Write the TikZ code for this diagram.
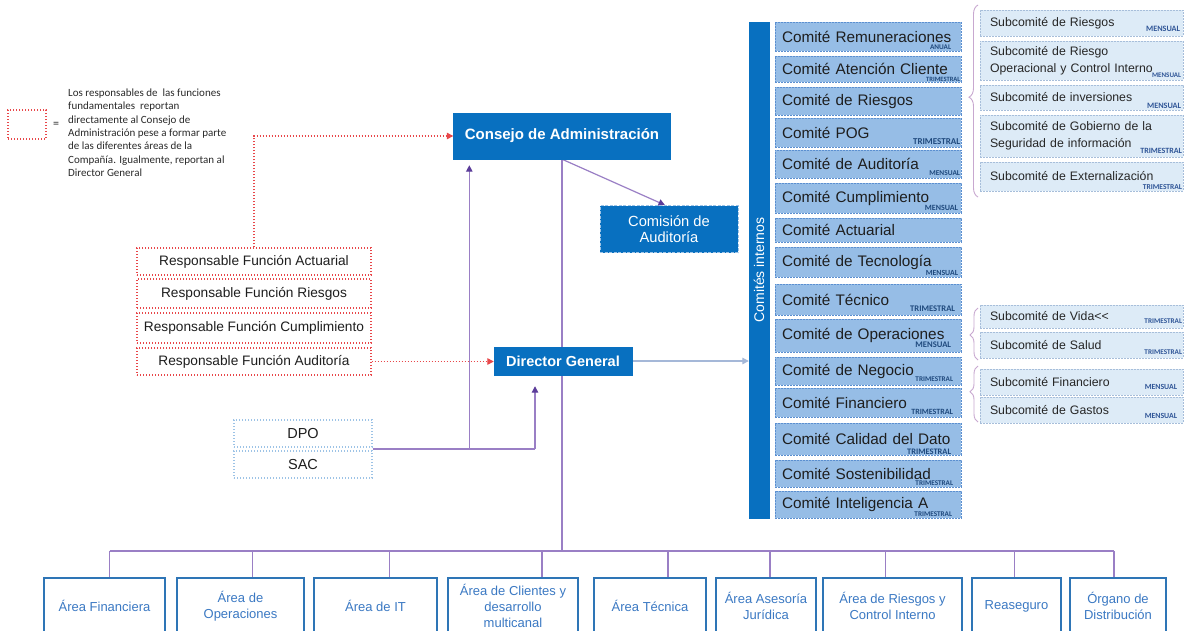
\documentclass[tikz,border=0pt]{standalone}
\usepackage{fontspec}
\setmainfont{Liberation Sans}
\newfontfamily\calib{Carlito}
\usetikzlibrary{arrows.meta,decorations.pathreplacing,backgrounds,calc}
\newcommand\fsz[2]{\fontsize{#1}{#2}\selectfont}
\definecolor{cblue}{HTML}{0870C0}
\definecolor{cfill}{HTML}{96BDE6}
\definecolor{cdash}{HTML}{5B8FD0}
\definecolor{sfill}{HTML}{DDEBF7}
\definecolor{sdash}{HTML}{A7BEDA}
\definecolor{areab}{HTML}{2E75B6}
\definecolor{areat}{HTML}{3B79C3}
\definecolor{purp}{HTML}{9A7FC5}
\definecolor{purpd}{HTML}{5B3C99}
\definecolor{brcol}{HTML}{C8A8D0}
\definecolor{lab}{HTML}{1F497D}
\definecolor{labb}{HTML}{2F5597}
\definecolor{txt}{HTML}{1E1E1E}
\definecolor{txtb}{HTML}{262626}
\definecolor{ltxt}{HTML}{2A2A2A}
\definecolor{gline}{HTML}{A5B8D8}
\definecolor{dpob}{HTML}{9DC3E6}
\definecolor{redd}{HTML}{E8474A}
\begin{document}
\begin{tikzpicture}[x=1pt,y=-1pt,
  bluebox/.style={fill=cblue, draw=cblue, text=white, inner sep=0pt, align=center},
  com/.style={fill=cfill, draw=cdash, dash pattern=on 2pt off 1pt, line width=0.6pt, inner xsep=7pt, inner ysep=0pt, text width=172pt, align=left, text=txt, font=\fsz{15.3}{18}},
  freq/.style={text=lab, inner sep=0pt, anchor=south east},
  freqb/.style={text=labb, inner sep=0pt, anchor=south east},
  sub/.style={fill=sfill, draw=sdash, dash pattern=on 2pt off 1pt, line width=0.6pt, inner xsep=10pt, inner ysep=0pt, text width=183pt, align=left, text=txtb, font=\fsz{12.3}{16.6}},
  resp/.style={draw=redd, line width=1.3pt, dash pattern=on 1.3pt off 1.7pt, fill=white, minimum width=234pt, inner sep=0pt, text=txt, font=\fsz{13.7}{16}},
  smallbox/.style={draw=dpob, line width=1.1pt, dash pattern=on 1.1pt off 1.9pt, fill=white, minimum width=138pt, minimum height=27pt, inner sep=0pt, text=txt, font=\fsz{14.5}{17}},
  area/.style={draw=areab, line width=1.2pt, fill=white, text=areat, inner sep=0pt, minimum height=56pt, align=center, font=\fsz{13}{16}},
  pl/.style={draw=purp, line width=1.2pt},
  ptip/.style={-{Triangle[length=6.5pt,width=6.5pt,color=purpd]}},
  rl/.style={draw=redd, line width=1.3pt, dash pattern=on 1.3pt off 1.7pt, -{Triangle[length=6.5pt,width=6.5pt,color=redd]}},
  gl/.style={draw=gline, line width=1.1pt, -{Triangle[length=6.5pt,width=6.5pt]}},
  brc/.style={draw=brcol, line width=0.9pt, decorate},
]
\useasboundingbox (0,0) rectangle (1186,630);

% legend
\node[draw=redd, line width=1.1pt, dash pattern=on 1.1pt off 1.9pt, minimum width=38pt, minimum height=29pt, inner sep=0pt] (leg) at (27,124.5) {};
\node[font=\calib\fsz{12}{12}, text=ltxt, inner sep=0pt] (eq) at (56,125) {=};
\node[anchor=north west, align=left, font=\calib\fsz{11}{13.4}, text=ltxt, inner sep=0pt] (legtxt) at (68,88.5) {Los responsables de\ \ las funciones\\fundamentales\ \ reportan\\directamente al Consejo de\\Administración pese a formar parte\\de las diferentes áreas de la\\Compañía. Igualmente, reportan al\\Director General};

% main blue boxes
\node[bluebox, minimum width=217pt, minimum height=46pt, font=\bfseries\fsz{15}{18}] (con) at (562,136) {Consejo de Administración};
\node[bluebox, draw=dpob, dash pattern=on 3pt off 1.5pt, line width=0.8pt, minimum width=138pt, minimum height=47pt, font=\fsz{14.7}{16.5}] (ca) at (669,229) {Comisión de\\Auditoría};
\node[bluebox, minimum width=138pt, minimum height=28pt, font=\bfseries\fsz{14.5}{17}] (dg) at (563,361) {Director General};
\node[bluebox, rotate=90, minimum width=496pt, minimum height=20pt, font=\fsz{14}{16}] (ci) at (759,270) {Comités internos};

% responsables
\node[resp, minimum height=27pt] (r1) at (254,261.5) {Responsable Función Actuarial};
\node[resp, minimum height=29pt] (r2) at (254,293.5) {Responsable Función Riesgos};
\node[resp, minimum height=30pt] (r3) at (254,328) {Responsable Función Cumplimiento};
\node[resp, minimum height=27pt] (r4) at (254,361.5) {Responsable Función Auditoría};

% DPO SAC
\node[smallbox] (dpo) at (303,433.5) {DPO};
\node[smallbox] (sac) at (303,464.5) {SAC};

% committees
\node[com, minimum height=29pt] (c1) at (868,36.5) {Comité Remuneraciones};
\node[com, minimum height=26pt] (c2) at (868,69) {Comité Atención Cliente};
\node[com, minimum height=28pt] (c3) at (868,101) {Comité de Riesgos};
\node[com, minimum height=29pt] (c4) at (868,132.5) {Comité POG};
\node[com, minimum height=28pt] (c5) at (868,164) {Comité de Auditoría};
\node[com, minimum height=30pt] (c6) at (868,198) {Comité Cumplimiento};
\node[com, minimum height=24pt] (c7) at (868,230) {Comité Actuarial};
\node[com, minimum height=30pt] (c8) at (868,262) {Comité de Tecnología};
\node[com, minimum height=31pt] (c9) at (868,299.5) {Comité Técnico};
\node[com, minimum height=33pt] (c10) at (868,335.5) {Comité de Operaciones};
\node[com, minimum height=28pt] (c11) at (868,371) {Comité de Negocio};
\node[com, minimum height=29pt] (c12) at (868,402.5) {Comité Financiero};
\node[com, minimum height=32pt] (c13) at (868,439) {Comité Calidad del Dato};
\node[com, minimum height=27pt] (c14) at (868,473.5) {Comité Sostenibilidad};
\node[com, minimum height=27pt] (c15) at (868,504.5) {Comité Inteligencia A};

\node[freq, font=\calib\bfseries\fsz{7.2}{7}] (f1) at ([xshift=-10pt,yshift=1.5pt]c1.south east) {ANUAL};
\node[freq, font=\calib\bfseries\fsz{6.5}{6}] (f2) at ([xshift=-1pt,yshift=1pt]c2.south east) {TRIMESTRAL};
\node[freq, font=\calib\bfseries\fsz{9}{8}] (f4) at ([xshift=-1pt,yshift=2.5pt]c4.south east) {TRIMESTRAL};
\node[freq, font=\calib\bfseries\fsz{7.4}{7}] (f5) at ([xshift=-1pt,yshift=2.5pt]c5.south east) {MENSUAL};
\node[freq, font=\calib\bfseries\fsz{8}{7}] (f6) at ([xshift=-3pt,yshift=2.5pt]c6.south east) {MENSUAL};
\node[freq, font=\calib\bfseries\fsz{7.8}{7}] (f8) at ([xshift=-3pt,yshift=1.5pt]c8.south east) {MENSUAL};
\node[freq, font=\calib\bfseries\fsz{8.6}{8}] (f9) at ([xshift=-6pt,yshift=4pt]c9.south east) {TRIMESTRAL};
\node[freq, font=\calib\bfseries\fsz{8.6}{8}] (f10) at ([xshift=-10pt,yshift=4.5pt]c10.south east) {MENSUAL};
\node[freq, font=\calib\bfseries\fsz{7.2}{7}] (f11) at ([xshift=-8pt,yshift=4pt]c11.south east) {TRIMESTRAL};
\node[freq, font=\calib\bfseries\fsz{8}{8}] (f12) at ([xshift=-8pt,yshift=3pt]c12.south east) {TRIMESTRAL};
\node[freq, font=\calib\bfseries\fsz{8.4}{8}] (f13) at ([xshift=-10pt,yshift=1pt]c13.south east) {TRIMESTRAL};
\node[freq, font=\calib\bfseries\fsz{7.2}{7}] (f14) at ([xshift=-8pt,yshift=1.5pt]c14.south east) {TRIMESTRAL};
\node[freq, font=\calib\bfseries\fsz{7.2}{7}] (f15) at ([xshift=-9pt,yshift=2pt]c15.south east) {TRIMESTRAL};

% subcommittees
\node[sub, minimum height=26pt] (s1) at (1081.5,23) {Subcomité de Riesgos};
\node[sub, minimum height=39pt] (s2) at (1081.5,60.5) {Subcomité de Riesgo\\Operacional y Control Interno};
\node[sub, minimum height=25pt] (s3) at (1081.5,97.5) {Subcomité de inversiones};
\node[sub, minimum height=42pt] (s4) at (1081.5,136) {Subcomité de Gobierno de la\\Seguridad de información};
\node[sub, minimum height=29pt] (s5) at (1081.5,176.5) {Subcomité de Externalización};
\node[sub, minimum height=23pt] (s6) at (1081.5,316.5) {Subcomité de Vida<\kern0pt<};
\node[sub, minimum height=26pt] (s7) at (1081.5,345) {Subcomité de Salud};
\node[sub, minimum height=26pt] (s8) at (1081.5,382) {Subcomité Financiero};
\node[sub, minimum height=26pt] (s9) at (1081.5,410) {Subcomité de Gastos};

\node[freqb, font=\calib\bfseries\fsz{8.2}{8}] (g1) at ([xshift=-3pt,yshift=5pt]s1.south east) {MENSUAL};
\node[freqb, font=\calib\bfseries\fsz{7}{7}] (g2) at ([xshift=-2pt,yshift=2.5pt]s2.south east) {MENSUAL};
\node[freqb, font=\calib\bfseries\fsz{8.2}{8}] (g3) at ([xshift=-2pt,yshift=1.5pt]s3.south east) {MENSUAL};
\node[freqb, font=\calib\bfseries\fsz{8}{8}] (g4) at ([xshift=-1pt,yshift=4pt]s4.south east) {TRIMESTRAL};
\node[freqb, font=\calib\bfseries\fsz{7.5}{7}] (g5) at ([xshift=-1pt,yshift=1.5pt]s5.south east) {TRIMESTRAL};
\node[freqb, font=\calib\bfseries\fsz{7.2}{7}] (g6) at ([xshift=-1pt,yshift=5pt]s6.south east) {TRIMESTRAL};
\node[freqb, font=\calib\bfseries\fsz{7.2}{7}] (g7) at ([xshift=-1pt,yshift=3.5pt]s7.south east) {TRIMESTRAL};
\node[freqb, font=\calib\bfseries\fsz{7.8}{7}] (g8) at ([xshift=-6pt,yshift=5.5pt]s8.south east) {MENSUAL};
\node[freqb, font=\calib\bfseries\fsz{7.8}{7}] (g9) at ([xshift=-6pt,yshift=5pt]s9.south east) {MENSUAL};

% braces
\draw[brc, decoration={brace, amplitude=9pt, aspect=0.52}] (978,197) -- (978,5);
\draw[brc, decoration={brace, amplitude=8pt, aspect=0.48}] (978,360) -- (978,308);
\draw[brc, decoration={brace, amplitude=8pt, aspect=0.54}] (978,422) -- (978,366);

% areas
\node[area, minimum width=121pt] (a1) at (104.5,606) {Área Financiera};
\node[area, minimum width=127pt] (a2) at (240.5,606) {Área de\\Operaciones};
\node[area, minimum width=123pt] (a3) at (375.5,606) {Área de IT};
\node[area, minimum width=130pt] (a4) at (513,606) {Área de Clientes y\\desarrollo\\multicanal};
\node[area, minimum width=112pt] (a5) at (650,606) {Área Técnica};
\node[area, minimum width=100pt] (a6) at (766,606) {Área Asesoría\\Jurídica};
\node[area, minimum width=139pt] (a7) at (892.5,606) {Área de Riesgos y\\Control Interno};
\node[area, minimum width=89pt] (a8) at (1016.5,606) {Reaseguro};
\node[area, minimum width=96pt] (a9) at (1118,606) {Órgano de\\Distribución};

\coordinate (bus) at (562,551);
\coordinate (d1) at ([xshift=5pt]a1.north);
\coordinate (d2) at ([xshift=12pt]a2.north);
\coordinate (d3) at ([xshift=14pt]a3.north);
\coordinate (d4) at ([xshift=29pt]a4.north);
\coordinate (d5) at ([xshift=18pt]a5.north);
\coordinate (d6) at ([xshift=4pt]a6.north);
\coordinate (d7) at ([xshift=-7pt]a7.north);
\coordinate (d8) at ([xshift=-2pt]a8.north);
\coordinate (d9) at ([xshift=-4pt]a9.north);
\coordinate (js) at ($(dpo.south east)!0.5!(sac.north east)$);
\coordinate (up1) at ([xshift=16pt,yshift=-6pt]con.south west);
\coordinate (up2) at ([xshift=-28pt,yshift=-11pt]dg.south);

\begin{scope}[on background layer]
  \fill[white] (0,0) rectangle (1186,630);
  \draw[pl, ptip] (con.south) -- ([xshift=-4pt]ca.north);
  \draw[pl] (con.south) -- (con.south |- bus);
  \draw[pl] (d1 |- bus) -- (d9 |- bus);
  \foreach \i in {1,...,9} {\draw[pl] (d\i) -- (d\i |- bus);}
  \draw[pl] (js) -- (js -| up2);
  \draw[pl, ptip] (js -| up2) -- (up2);
  \draw[pl, ptip] (js -| up1) -- (up1);
  \draw[rl] (r1.north) |- (con.west);
  \draw[rl] (r4.east) -- (r4.east -| dg.west);
  \draw[gl] (dg.east) -- (dg.east -| ci.north);
\end{scope}
\end{tikzpicture}
\end{document}
